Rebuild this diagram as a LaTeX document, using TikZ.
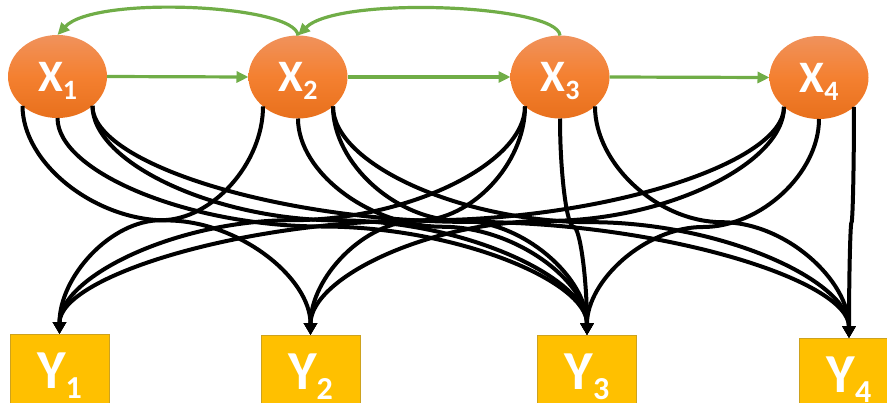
\documentclass[tikz,border=0pt]{standalone}
\usepackage{fontspec}
\setmainfont{Carlito}
\usetikzlibrary{arrows.meta,shapes.geometric,calc}

\definecolor{edgegreen}{RGB}{112,173,71}
\definecolor{orangetop}{RGB}{240,146,92}
\definecolor{orangemid}{RGB}{244,128,48}
\definecolor{orangebot}{RGB}{232,112,28}
\definecolor{boxfill}{RGB}{255,192,0}
\definecolor{boxline}{RGB}{205,162,30}

% variable labels: big letter with a lowered index
\newcommand{\xlab}[1]{\bfseries\fontsize{45}{45}\selectfont X\smash{\raisebox{-8pt}{\fontsize{28}{28}\selectfont #1}}}
\newcommand{\ylab}[1]{\bfseries\fontsize{55}{55}\selectfont Y\smash{\raisebox{-10pt}{\fontsize{32}{32}\selectfont #1}}}

% vertical S-shaped curved connector from one anchor down to another
\newcommand{\ylink}[2]{%
  \draw[blk] let \p1=(#1), \p2=(#2) in
    (\p1) .. controls (\x1,{0.75*\y1+0.25*\y2}) and ({0.75*\x1+0.25*\x2},{0.5*\y1+0.5*\y2})
    .. ({0.5*\x1+0.5*\x2},{0.5*\y1+0.5*\y2})
    .. controls ({0.25*\x1+0.75*\x2},{0.5*\y1+0.5*\y2}) and (\x2,{0.25*\y1+0.75*\y2}) .. (\p2);}

\begin{document}
\begin{tikzpicture}[x=1pt,y=-1pt,
  xnode/.style={ellipse, minimum width=99, minimum height=83, inner sep=0pt, outer sep=0pt,
    top color=orangetop, bottom color=orangebot, middle color=orangemid, text=white},
  ybox/.style={rectangle, anchor=north, minimum width=99, minimum height=72, inner sep=0pt,
    fill=boxfill, draw=boxline, line width=0.8pt, text=white},
  grn/.style={draw=edgegreen, line width=3.2pt, -{Triangle[length=12pt,width=11pt]}},
  blk/.style={draw=black, line width=4pt, -{Triangle[length=12pt,width=13pt]}}]
\useasboundingbox (0,0) rectangle (887,402);

% hidden states
\node[xnode] (X1) at (57.5,76.5) {\xlab{1}};
\node[xnode] (X2) at (298,77)   {\xlab{2}};
\node[xnode] (X3) at (560,77)   {\xlab{3}};
\node[xnode] (X4) at (819,77.5) {\xlab{4}};

% observations
\node[ybox] (Y1) at (59.5,334) {\ylab{1}};
\node[ybox] (Y2) at (310.5,335) {\ylab{2}};
\node[ybox] (Y3) at (587,335)  {\ylab{3}};
\node[ybox] (Y4) at (849,338)  {\ylab{4}};

% forward transitions
\draw[grn] (X1.east) -- (X2.west);
\draw[grn] (X2.east) -- (X3.west);
\draw[grn] (X3.east) -- (X4.west);

% backward arcs over the top
\draw[grn] (X2.north) .. controls +(-2,-31) and +(37,-40) .. (X1.north);
\draw[grn] (X3.north) .. controls +(-2,-31) and +(40,-40) .. (X2.north);

% emissions
\ylink{X1.-140}{Y2.north}
\ylink{X1.south}{Y3.north}
\ylink{X1.-40}{Y3.north}
\ylink{X1.-40}{Y4.north}
\ylink{X2.-140}{Y1.north}
\ylink{X2.south}{Y3.north}
\ylink{X2.-40}{Y3.north}
\ylink{X2.-40}{Y4.north}
\ylink{X3.-140}{Y1.north}
\ylink{X3.-140}{Y2.north}
\ylink{X3.south}{Y3.north}
\ylink{X3.-40}{Y4.north}
\ylink{X4.-140}{Y1.north}
\ylink{X4.-140}{Y2.north}
\ylink{X4.south}{Y3.north}
\ylink{X4.-40}{Y4.north}
\end{tikzpicture}
\end{document}
